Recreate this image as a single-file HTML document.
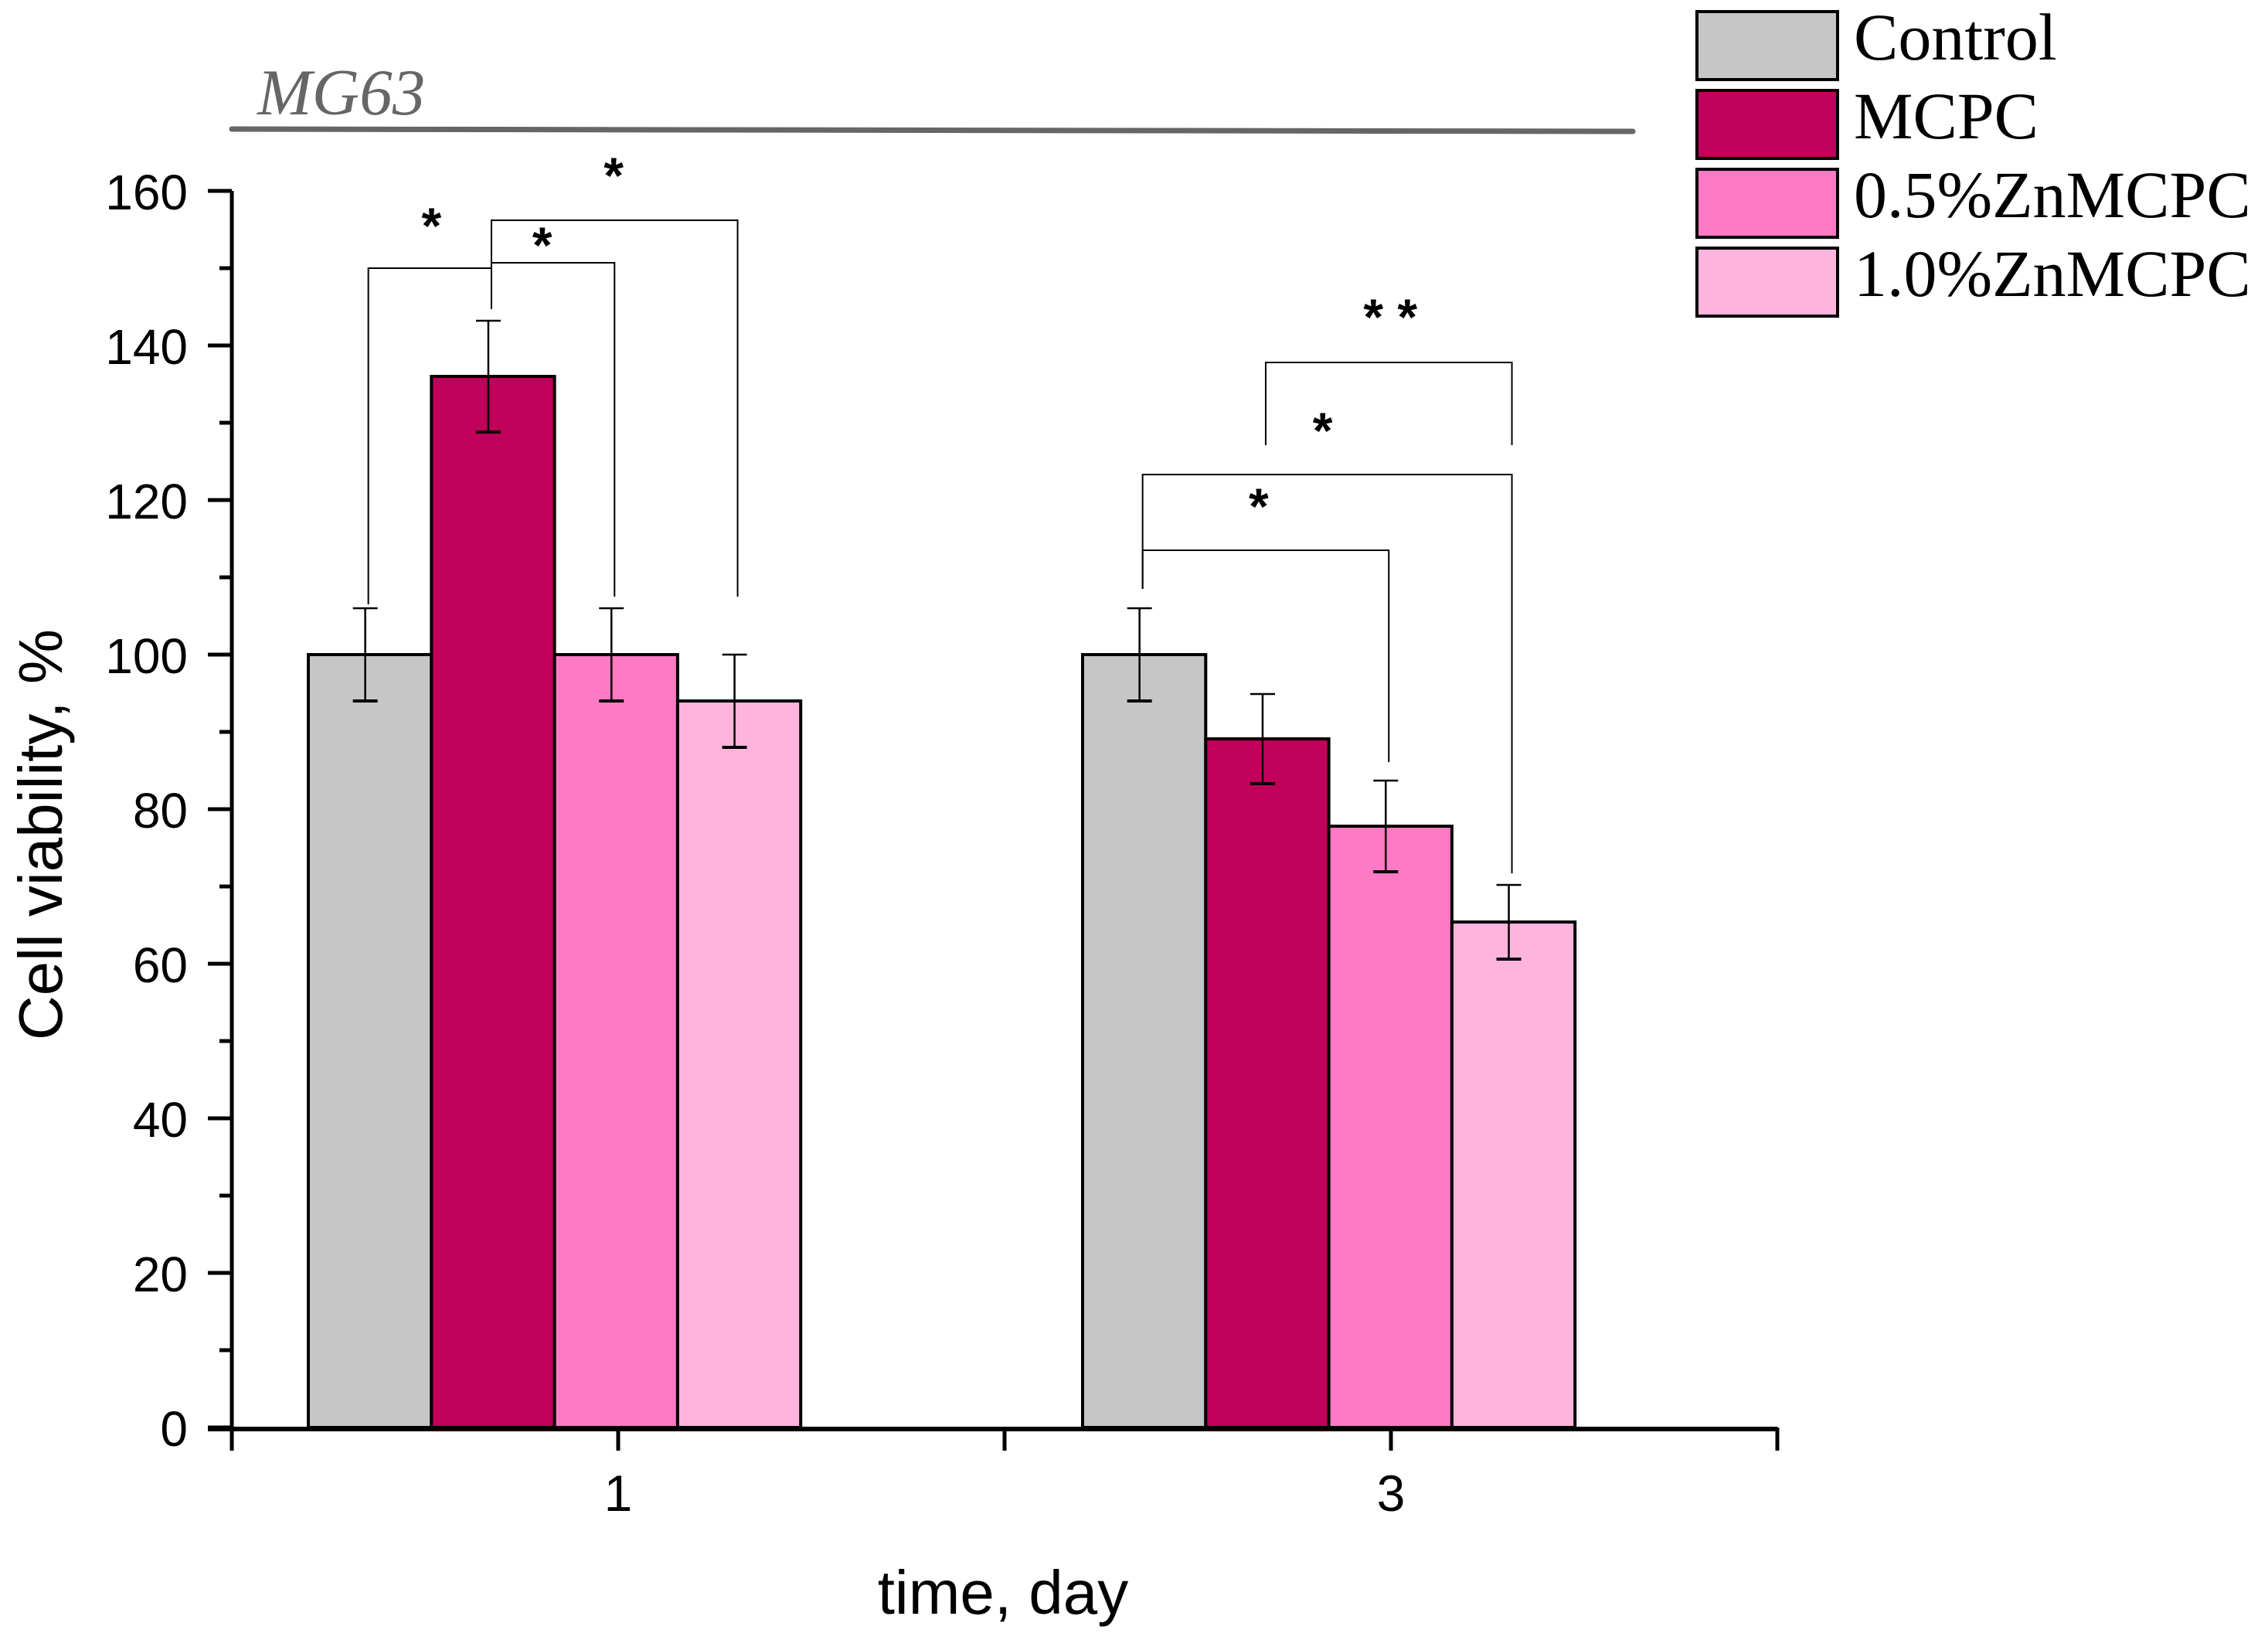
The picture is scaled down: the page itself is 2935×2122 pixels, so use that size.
<!DOCTYPE html>
<html><head><meta charset="utf-8"><style>
html,body{margin:0;padding:0;background:#fff;}
svg{display:block;}
</style></head><body>
<svg id="chart" xmlns="http://www.w3.org/2000/svg" width="2935" height="2122" viewBox="0 0 2935 2122">
<rect width="2935" height="2122" fill="#fff"/>
<text x="333" y="148" font-family="Liberation Serif, serif" font-style="italic" font-size="85" fill="#666">MG63</text>
<line x1="300" y1="167" x2="2113" y2="170" stroke="#666" stroke-width="7" stroke-linecap="round"/>
<g id="plot"></g>
<text transform="translate(80,1080) rotate(-90)" text-anchor="middle" font-family="Liberation Sans, sans-serif" font-size="80" fill="#000">Cell viability, %</text>
<text x="1298" y="2088" text-anchor="middle" font-family="Liberation Sans, sans-serif" font-size="80" fill="#000">time, day</text>
<g id="legend"></g>
</svg>
<script>
const categories = ["1", "3"];
const seriesNames = ["Control", "MCPC", "0.5%ZnMCPC", "1.0%ZnMCPC"];
const seriesColors = ["#c6c6c6", "#c0005a", "#ff7ac5", "#ffb4de"];
const valuesDay1 = [100, 136, 100, 94];
const valuesDay3 = [100, 89.1, 77.8, 65.4];
const errDay1 = [6, 7.2, 6, 6];
const errDay3 = [6, 5.8, 5.9, 4.8];
const yTicks = [0, 20, 40, 60, 80, 100, 120, 140, 160];
const brackets = [
  [0, 0, 1, 150, 106.5, 144.7, "*", 0.5, 156.2],
  [0, 1, 2, 150.7, 150, 107.5, "*", 1.4, 153.7],
  [0, 1, 3, 156.2, 150.7, 107.5, "*", 1.98, 162.7],
  [1, 0, 2, 113.5, 108.5, 86.1, "*", 0.93, 119.9],
  [1, 0, 3, 123.3, 108.5, 71.7, "*", 1.45, 129.7],
  [1, 1, 3, 137.8, 127.1, 127.1, "* *", 2.0, 144.4]
];
const NS = "http://www.w3.org/2000/svg";
const plot = document.getElementById("plot");
const X0 = 300, X1 = 2300, Y0 = 1847, PXU = 10;
const groupStart = [399, 1401], barW = 159.3;
function yS(v){ return Y0 - v*PXU; }
function barX(g,i){ return groupStart[g] + i*barW; }
function barC(g,i){ return barX(g,i) + barW/2; }
function mk(tag, attrs, parent){ const e = document.createElementNS(NS, tag); for (const k in attrs) e.setAttribute(k, attrs[k]); (parent||plot).appendChild(e); return e; }

const allVals = [valuesDay1, valuesDay3], allErr = [errDay1, errDay3];
for (let g=0; g<2; g++){
  for (let i=0; i<4; i++){
    const v = allVals[g][i];
    const r = mk("rect", {x: barX(g,i), y: yS(v), width: barW, height: v*PXU, fill: seriesColors[i], stroke: "#000", "stroke-width": 4});
    
    
  }
  for (let i=0; i<4; i++){
    const v = allVals[g][i], e = allErr[g][i], cx = barC(g,i) - 6;
    const eg = mk("g", {stroke: "#000", "stroke-width": 2.5});
    
    
    mk("line", {x1: cx, y1: yS(v+e), x2: cx, y2: yS(v-e)}, eg);
    mk("line", {x1: cx-16, y1: yS(v+e), x2: cx+16, y2: yS(v+e)}, eg);
    mk("line", {x1: cx-16, y1: yS(v-e), x2: cx+16, y2: yS(v-e), "stroke-width": 4}, eg);
  }
}
brackets.forEach(b => {
  const [g, a, c, yt, yl, yr, lab, sp, sy] = b;
  const xa = barC(g,a) - 2, xc = barC(g,c) - 2;
  const bg = mk("g", {stroke: "#000", "stroke-width": 2, fill: "none"});
  
  
  mk("polyline", {points: `${xa},${yS(yl)} ${xa},${yS(yt)} ${xc},${yS(yt)} ${xc},${yS(yr)}`}, bg);
  const t = mk("text", {x: barX(g,0) + sp*barW + barW/2, y: yS(sy) + 30, "text-anchor": "middle", "font-family": "Liberation Sans, sans-serif", "font-weight": "bold", "font-size": 66, fill: "#000"});
  
  
  t.textContent = lab;
});
const ax = mk("line", {x1: X0, y1: Y0+4, x2: X0, y2: yS(160), stroke: "#000", "stroke-width": 5});


const xa = mk("line", {x1: X0-31, y1: Y0+2, x2: X1, y2: Y0+2, stroke: "#000", "stroke-width": 6});


yTicks.forEach(t => {
  const tk = mk("line", {x1: X0-31, y1: yS(t), x2: X0, y2: yS(t), stroke: "#000", "stroke-width": 5});
  
  
  const lb = mk("text", {x: 243, y: yS(t)+24, "text-anchor": "end", "font-family": "Liberation Sans, sans-serif", "font-size": 64, fill: "#000"});
  
  
  lb.textContent = t;
  if (t < 160){
    const mt = mk("line", {x1: X0-16, y1: yS(t+10), x2: X0, y2: yS(t+10), stroke: "#000", "stroke-width": 5});
    
    
  }
});
for (let k=0; k<5; k++){
  const x = X0 + k*500;
  const tk = mk("line", {x1: x, y1: Y0, x2: x, y2: Y0+30, stroke: "#000", "stroke-width": 5});
  
  
}
categories.forEach((c, g) => {
  const lb = mk("text", {x: 800 + g*1000, y: 1955, "text-anchor": "middle", "font-family": "Liberation Sans, sans-serif", "font-size": 66, fill: "#000"});
  
  
  lb.textContent = c;
});
const leg = document.getElementById("legend");
const legTop = [13, 115, 217, 319];
seriesNames.forEach((n, i) => {
  const eg = mk("g", {}, leg);
  
  
  mk("rect", {x: 2196, y: legTop[i]+2, width: 182, height: 88, fill: seriesColors[i], stroke: "#000", "stroke-width": 4}, eg);
  const t = mk("text", {x: 2399, y: legTop[i]+64, "font-family": "Liberation Serif, serif", "font-size": 86, fill: "#000"}, eg);
  t.textContent = n;
});
</script>
</body></html>
